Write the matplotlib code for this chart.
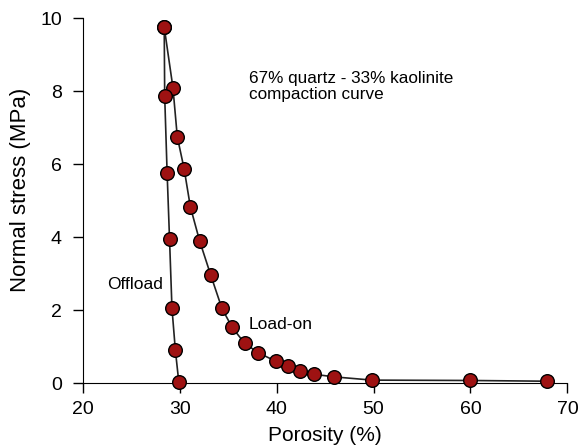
import matplotlib
matplotlib.use('Agg')
import matplotlib.pyplot as plt

plt.rcParams['font.family'] = ['Liberation Sans', 'DejaVu Sans']

# Load-on path: from loose (high porosity) up to peak stress
load_porosity = [67.9, 60.0, 49.85, 45.9, 43.9, 42.4, 41.2, 39.9, 38.1, 36.7,
                 35.4, 34.35, 33.2, 32.05, 31.1, 30.45, 29.75, 29.3, 28.4]
load_stress = [0.05, 0.07, 0.08, 0.17, 0.24, 0.34, 0.47, 0.60, 0.83, 1.09,
               1.53, 2.05, 2.96, 3.9, 4.83, 5.88, 6.75, 8.1, 9.76]

# Offload path: from peak stress down to zero
off_porosity = [28.4, 28.45, 28.7, 28.95, 29.2, 29.55, 29.9]
off_stress = [9.76, 7.86, 5.76, 3.94, 2.05, 0.9, 0.04]

x_ticks = [20, 30, 40, 50, 60, 70]
y_ticks = [0, 2, 4, 6, 8, 10]

fig = plt.figure(figsize=(5.79, 4.48), dpi=100)
ax = fig.add_axes([0.143, 0.145, 0.837, 0.814])

mk = dict(marker='o', markersize=9.8, markerfacecolor='#9e1212',
          markeredgecolor='black', markeredgewidth=1.0, color='#222222', linewidth=1.2)
ax.plot(load_porosity, load_stress, **mk, zorder=3)
ax.plot(off_porosity, off_stress, **mk, zorder=3)

ax.set_xlim(20, 70)
ax.set_ylim(0, 10)
ax.set_xticks(x_ticks)
ax.set_yticks(y_ticks)
for s in ['top', 'right']:
    ax.spines[s].set_visible(False)
ax.tick_params(direction='out', length=7, width=1, labelsize=14)
ax.tick_params(axis='x', pad=6)
ax.tick_params(axis='y', pad=8)
ax.set_xlabel('Porosity (%)', fontsize=15)
ax.set_ylabel('Normal stress (MPa)', fontsize=16)
ax.xaxis.set_label_coords(0.5, -0.118)
ax.yaxis.set_label_coords(-0.107, 0.53)
for sp in ax.spines.values():
    sp.set_clip_on(False)

ax.text(37.1, 8.55, '67% quartz - 33% kaolinite\ncompaction curve', fontsize=12.3,
        va='top', ha='left', linespacing=1.05)
ax.text(22.5, 2.7, 'Offload', fontsize=12.5, va='center', ha='left')
ax.text(37.1, 1.6, 'Load-on', fontsize=12.5, va='center', ha='left')

for line in ax.lines:
    line.set_clip_on(False)

fig.savefig('out.png', dpi=100)
